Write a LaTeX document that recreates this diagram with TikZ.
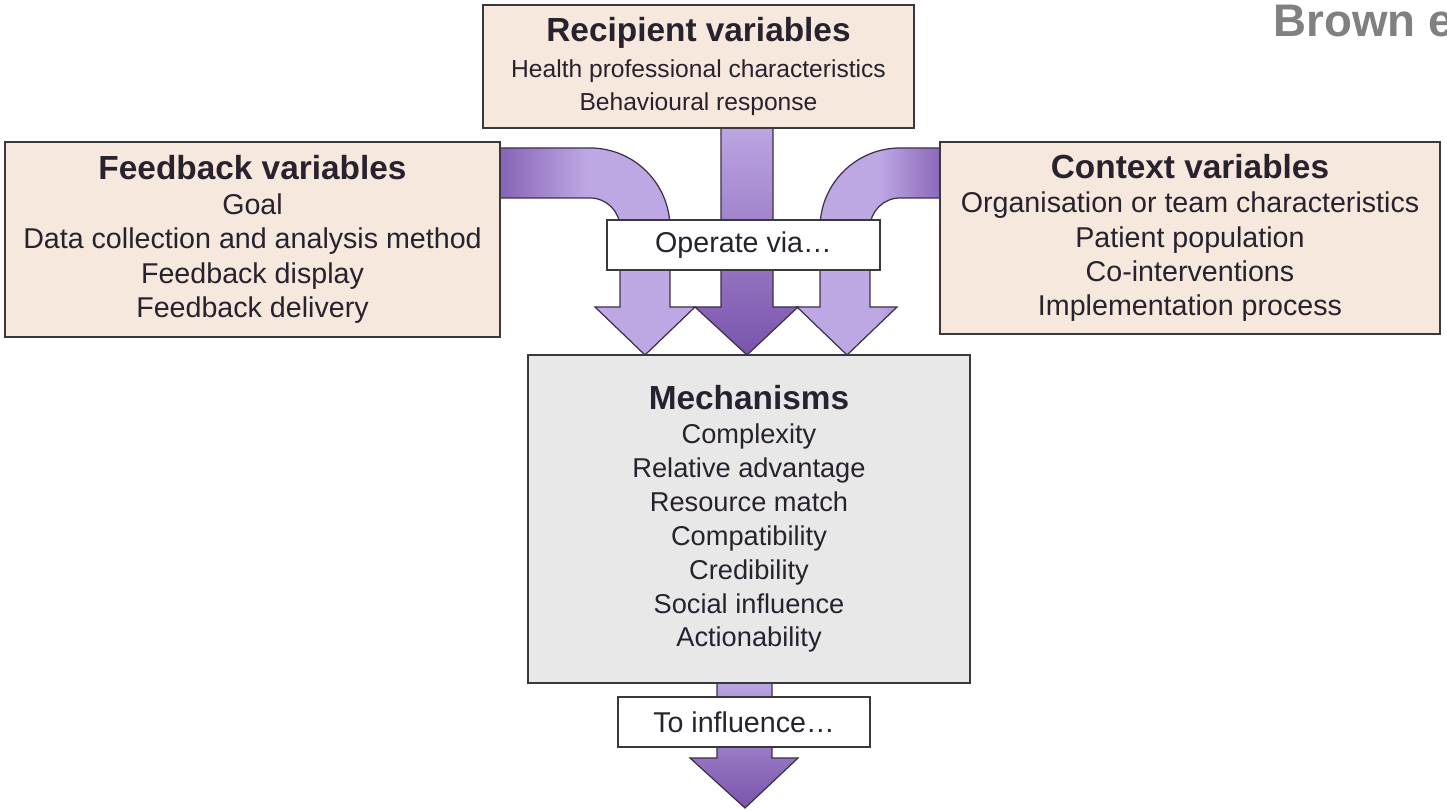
\documentclass[tikz,border=0pt]{standalone}
\usepackage{fontspec}
\setmainfont{Liberation Sans}
\usetikzlibrary{backgrounds}
\usetikzlibrary{calc}

\definecolor{boxbeige}{RGB}{246,232,220}
\definecolor{boxgrey}{RGB}{232,232,232}
\definecolor{edgegrey}{RGB}{58,56,60}
\definecolor{inkdark}{RGB}{40,34,46}
\definecolor{arrowlight}{RGB}{190,168,228}
\definecolor{arrowdark}{RGB}{122,84,172}
\definecolor{arrowedge}{RGB}{60,48,72}
\definecolor{citegrey}{RGB}{128,128,128}

\newcommand{\titlefont}{\fontsize{19}{22}\selectfont\bfseries}
\newcommand{\bodyfont}{\fontsize{16.3}{19.6}\selectfont}
\newcommand{\recipfont}{\fontsize{14}{18.7}\selectfont}
\newcommand{\mechfont}{\fontsize{15.5}{19.3}\selectfont}

\tikzset{
  varbox/.style={draw=edgegrey, line width=1.1pt, fill=boxbeige, text=inkdark,
                 align=center, inner sep=0pt, font=\bodyfont},
  mechbox/.style={varbox, fill=boxgrey, font=\mechfont},
  viabox/.style={draw=edgegrey, line width=1pt, fill=white, text=inkdark,
                 inner sep=0pt, font=\bodyfont},
  blockarrow/.style={draw=arrowedge, line width=0.7pt, line join=miter},
}

\begin{document}
\begin{tikzpicture}[x=0.02cm, y=-0.02cm]

  \useasboundingbox (0,0) rectangle (1447,810);
  % \draw[help lines] (0,0) grid[step=100] (1447,810);

  % Variable boxes
  \node[varbox, font=\recipfont, minimum width=8.62cm, minimum height=2.46cm]
        (Recip) at (698.5,66.5)
        {{\titlefont Recipient variables}\\[2pt]
         Health professional characteristics\\
         Behavioural response};

  \node[varbox, minimum width=9.9cm, minimum height=3.9cm]
        (Feed) at (252.5,239.5)
        {{\titlefont Feedback variables}\\
         Goal\\
         Data collection and analysis method\\
         Feedback display\\
         Feedback delivery};

  \node[varbox, minimum width=10cm, minimum height=3.84cm]
        (Context) at (1190,238)
        {{\titlefont Context variables}\\
         Organisation or team characteristics\\
         Patient population\\
         Co-interventions\\
         Implementation process};

  % Mechanisms
  \node[mechbox, minimum width=8.84cm, minimum height=6.56cm]
        (Mech) at (749,519)
        {{\titlefont Mechanisms}\\
         Complexity\\
         Relative advantage\\
         Resource match\\
         Compatibility\\
         Credibility\\
         Social influence\\
         Actionability};

  % Small label boxes on the arrows
  \node[viabox, minimum width=5.46cm, minimum height=1cm]
        (Operate) at (743.5,245) {Operate via…};
  \node[viabox, minimum width=5.04cm, minimum height=1cm]
        (Influence) at (744,722) {To influence…};

  % Citation, cut by the page edge
  \node[anchor=base west, inner sep=0pt, text=citegrey,
        font=\fontsize{26}{30}\selectfont\bfseries]
        (Cite) at (1273,37) {Brown e};

  % Block arrows, behind the boxes
  \begin{scope}[on background layer]

    % From feedback variables
    \shadedraw[blockarrow, left color=arrowdark, right color=arrowlight,
               middle color=arrowlight]
      (480,148) -- (590,148) arc (-90:0:80) -- (670,307) -- (695,307)
      -- (645,355) -- (595,307) -- (620,307) -- (620,228) arc (0:-90:30)
      -- (480,198) -- cycle;

    % From context variables
    \shadedraw[blockarrow, left color=arrowlight, right color=arrowdark,
               middle color=arrowlight]
      (960,148) -- (900,148) arc (-90:-180:80) -- (820,307) -- (797,307)
      -- (847,355) -- (897,307) -- (870,307) -- (870,228) arc (180:270:30)
      -- (960,198) -- cycle;

    % From recipient variables
    \shadedraw[blockarrow, top color=arrowlight, bottom color=arrowdark]
      (721,120) -- (773,120) -- (773,307) -- (798,307) -- (747,355)
      -- (695,307) -- (721,307) -- cycle;

    % Out of the mechanisms
    \shadedraw[blockarrow, top color=arrowlight, bottom color=arrowdark]
      (717,675) -- (772,675) -- (772,758) -- (798,758) -- (745,808)
      -- (690,758) -- (717,758) -- cycle;

  \end{scope}

\end{tikzpicture}
\end{document}
